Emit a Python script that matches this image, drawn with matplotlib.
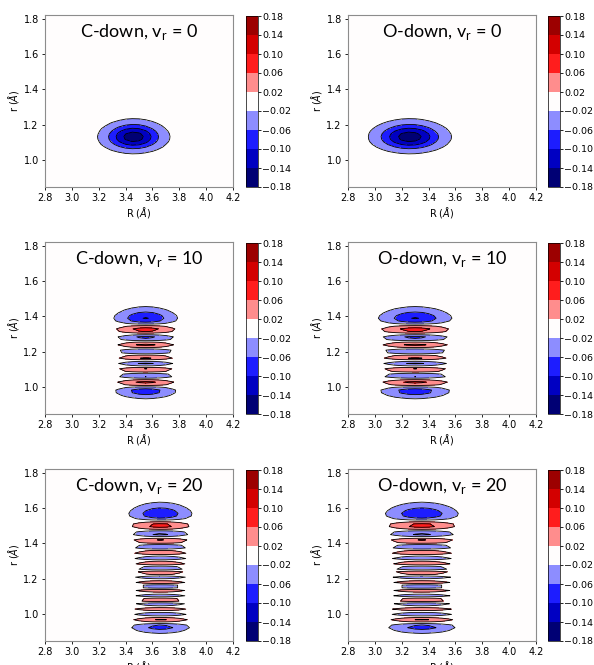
import numpy as np
import matplotlib
matplotlib.use("Agg")
import matplotlib.pyplot as plt

# panel settings
sites = ["C-down", "O-down"]
v_levels = [0, 10, 20]
R_center = [[3.46, 3.55, 3.66],   # C-down
            [3.26, 3.30, 3.35]]   # O-down
R_sigma = [0.13, 0.15]            # width of the R part
amp_scale = [1.0, 0.85, 0.88]     # relative height of the excited states
# Morse parameters for the CO stretch
r_e = 1.13
a_morse = 2.3
lam = 83.0
peak0 = 0.165                      # |psi| at the v=0 maximum

levels = np.round(np.arange(-0.18, 0.1801, 0.04), 2)
xticks = [2.8, 3.0, 3.2, 3.4, 3.6, 3.8, 4.0, 4.2]
yticks = [1.0, 1.2, 1.4, 1.6, 1.8]

# coarse grid, as in the original calculation
R = np.arange(2.8, 4.2001, 0.05)
r = np.arange(0.85, 1.8301, 0.015)
r_fine = np.linspace(0.7, 2.2, 3001)


def morse(v, x):
    z = 2 * lam * np.exp(-a_morse * (x - r_e))
    alpha = 2 * lam - 2 * v - 1
    s = lam - v - 0.5
    logp = s * np.log(z) - z / 2 - (s * np.log(2 * s) - s)
    L0 = np.ones_like(z)
    L1 = 1 + alpha - z
    if v == 0:
        return L0 * np.exp(logp)
    for k in range(1, v):
        L0, L1 = L1, ((2 * k + 1 + alpha - z) * L1 - (k + alpha) * L0) / (k + 1)
    return np.exp(logp) * L1


def morse_norm(v, x):
    f = morse(v, r_fine)
    return morse(v, x) / np.sqrt(np.trapezoid(f ** 2, r_fine))


A = peak0 / np.abs(morse_norm(0, r_fine)).max()

W, H = 594, 665
fig = plt.figure(figsize=(W / 100, H / 100), dpi=100)
col_left = [45, 348]
cbar_left = [246, 548]
row_top = [15, 242, 469]
aw, ah = 188, 172

for i, v in enumerate(v_levels):
    for j, site in enumerate(sites):
        ax = fig.add_axes([col_left[j] / W, 1 - (row_top[i] + ah) / H, aw / W, ah / H])
        cax = fig.add_axes([cbar_left[j] / W, 1 - (row_top[i] + ah) / H, 12 / W, (ah - 1) / H])
        RR, rr = np.meshgrid(R, r)
        g = np.exp(-(RR - R_center[j][i]) ** 2 / (2 * R_sigma[j] ** 2))
        psi = -A * amp_scale[i] * g * morse_norm(v, r)[:, None]
        cf = ax.contourf(RR, rr, psi, levels=levels, cmap="seismic")
        ax.contour(RR, rr, psi, levels=levels, colors="k", linewidths=0.6,
                   linestyles="solid")
        ax.set_xlim(2.8, 4.2)
        ax.set_ylim(0.85, 1.82)
        ax.set_xticks(xticks)
        ax.set_yticks(yticks)
        ax.tick_params(labelsize=7, length=2.5, width=0.6, pad=2)
        for sp in ax.spines.values():
            sp.set_color("0.55")
            sp.set_linewidth(0.8)
        ax.set_xlabel(r"R ($\AA$)", fontsize=7, labelpad=1)
        ax.set_ylabel(r"r ($\AA$)", fontsize=7, labelpad=2)
        ax.text(0.5, 0.9, site + r", v$_\mathregular{r}$ = " + str(v), transform=ax.transAxes,
                ha="center", va="center", fontsize=13, family="Lato")
        cb = fig.colorbar(cf, cax=cax, ticks=levels)
        cb.ax.tick_params(labelsize=6.8, length=2, width=0.6, pad=1)
        cb.outline.set_linewidth(0.5)

fig.savefig("out.png", dpi=100)
